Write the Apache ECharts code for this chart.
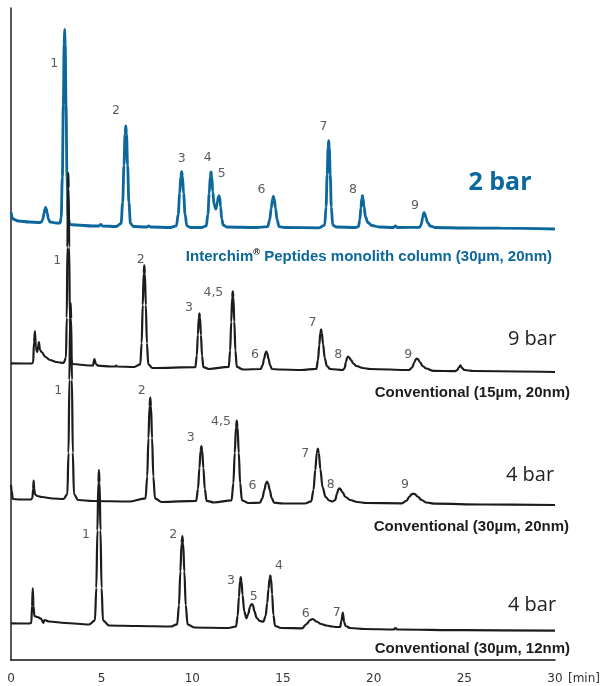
<!DOCTYPE html>
<html>
<head>
<meta charset="utf-8">
<script src="https://cdn.jsdelivr.net/npm/echarts@6/dist/echarts.min.js"></script>
<style>
html,body{margin:0;padding:0;background:#fff;}
#chart{width:604px;height:686px;}
</style>
</head>
<body>
<div id="chart"></div>
<script>
// ---- Data (time in min, signal in arbitrary units relative to each trace's baseline) ----
const xTicks = [0, 5, 10, 15, 20, 25, 30];

const trace2bar = [[0,17],[0.1,10],[0.4,8],[1.0,7],[1.6,6.5],
 [1.68,7],[1.76,10.1],[1.82,15.7],[1.874,20.3],[1.91,21.5],[1.946,20.3],[2.0,15.7],[2.063,10.1],[2.144,7],
 [2.5,6],[2.7,5.8],
 [2.765,11],[2.832,52],[2.885,124],[2.93,184],[2.96,199.7],[2.99,184],[3.035,124],[3.088,52],[3.155,11],[3.25,4.5],
 [3.6,4],[4.5,3],[4.85,3],[4.95,4.5],[5.05,3],[5.8,2.5],
 [6.07,5.5],[6.16,26.6],[6.23,63.8],[6.29,95],[6.33,103],[6.37,95],[6.43,63.8],[6.5,26.6],[6.59,5.5],[6.75,2.5],
 [7.5,2],[7.6,3],[7.7,2],[8.8,1.5],
 [9.124,3.2],[9.223,14.9],[9.3,35.5],[9.366,52.8],[9.41,57.3],[9.454,52.8],[9.52,35.5],[9.597,14.9],[9.696,3.2],[9.9,1.5],
 [10.5,1.5],
 [10.77,3.2],[10.86,14.8],[10.93,35.4],[10.99,52.6],[11.03,57],[11.07,52.6],[11.13,37],[11.2,24],[11.3,20],
 [11.38,27],[11.434,32],[11.47,33.3],[11.506,32],[11.56,22],[11.62,10],[11.7,4],[11.9,2],
 [13.5,1.5],
 [14.158,2.4],[14.266,9],[14.35,20.5],[14.422,30.2],[14.47,32.7],[14.518,30.2],[14.59,20.5],[14.674,9],[14.782,2.4],[15.1,1.5],
 [17.0,1.2],
 [17.299,3.9],[17.375,22.2],[17.435,54.4],[17.486,81.3],[17.52,88.3],[17.554,81.3],[17.605,54.4],[17.665,22.2],[17.741,3.9],[17.95,2],
 [19.0,1.5],
 [19.16,2.5],[19.235,9.1],[19.295,20.9],[19.346,30.8],[19.38,33.3],[19.414,30.8],[19.47,22],[19.55,12],[19.68,6.5],[19.9,3.5],[20.3,2],
 [21.1,1.5],[21.2,3],[21.3,1.5],
 [22.54,1.6],[22.63,5],[22.7,11],[22.75,15.3],[22.78,16.3],[22.82,15.3],[22.88,11.5],[22.97,6.5],[23.12,3],[23.4,1.5],
 [25,1],[27,0.8],[30,0]];

const trace9bar = [[0,8.7],[1.1,8.5],[1.22,9],[1.27,30],[1.32,41],[1.37,25],[1.44,20],[1.5,26],[1.54,30],[1.6,22],[1.69,20],[1.9,15],[2.15,12],[2.5,10],[2.9,9],
 [3.03,14.2],[3.075,54.2],[3.11,124.7],[3.14,183.8],[3.16,199],[3.18,183.8],[3.21,124.7],[3.245,54.2],[3.29,14.2],[3.4,8],
 [4.3,6.5],[4.52,6.5],[4.6,13],[4.68,8],[4.8,6.3],[5.5,5.5],[5.75,5.5],[5.8,6.5],[5.85,5.5],[6.8,5],
 [7.129,7.6],[7.205,29],[7.265,66.8],[7.316,98.5],[7.35,106.7],[7.384,98.5],[7.435,66.8],[7.495,29],[7.571,7.6],[7.8,4],
 [10.169,4.9],[10.245,16.5],[10.305,37.1],[10.356,54.3],[10.39,58.7],[10.424,54.3],[10.475,37.1],[10.535,16.5],[10.611,4.9],[10.9,3],
 [12.009,5.1],[12.085,21.5],[12.145,50.3],[12.196,74.5],[12.23,80.7],[12.264,74.5],[12.315,50.3],[12.375,21.5],[12.451,5.1],[12.8,2.5],
 [13.768,3],[13.876,6.8],[13.96,13.4],[14.032,18.9],[14.08,20.3],[14.128,18.9],[14.2,13.4],[14.284,6.8],[14.392,3],[14.8,2.5],
 [16.0,2],
 [16.84,3.2],[16.93,11.8],[17.0,26.8],[17.06,39.4],[17.1,42.7],[17.14,39.4],[17.21,28],[17.3,14],[17.42,6],[17.6,3],[18.3,2],
 [18.4,4],[18.47,10],[18.54,14.5],[18.59,15.3],[18.65,14.5],[18.75,12],[18.88,8.5],[19.05,6],[19.4,4],[19.8,3],
 [21.95,2],[22.12,4.5],[22.25,10],[22.33,12.8],[22.38,13.3],[22.44,12.8],[22.55,10],[22.7,6],[22.9,3.5],[23.3,1.2],
 [24.5,0.8],[24.6,1.8],[24.7,4.5],[24.78,6.7],[24.87,4],[25.0,2],[25.5,1],[30,0]];

const trace4bar20 = [[0,20],[0.04,14],[0.1,6],[0.5,5.5],[1.1,5.5],
 [1.18,7],[1.22,16],[1.25,24.3],[1.28,16],[1.33,10.5],[1.45,9],[1.7,8],[2.3,6.5],[2.9,6],
 [3.108,10.9],[3.171,52.3],[3.22,125.2],[3.262,186.2],[3.29,202],[3.318,186.2],[3.36,125.2],[3.409,52.3],[3.472,10.9],[3.7,5],
 [4.5,4],[6.5,3.5],
 [7.42,6.6],[7.51,28.4],[7.58,66.8],[7.64,99],[7.68,107.3],[7.72,99],[7.78,66.8],[7.85,28.4],[7.94,6.6],[8.3,3],
 [10.214,4.2],[10.313,16.1],[10.39,37],[10.456,54.5],[10.5,59],[10.544,54.5],[10.61,37],[10.687,16.1],[10.786,4.2],[11.2,2.5],
 [12.164,4.7],[12.263,21.9],[12.34,52.2],[12.406,77.6],[12.45,84.3],[12.494,77.6],[12.56,52.2],[12.637,21.9],[12.736,4.7],[13.1,2],
 [13.73,2.4],[13.865,7],[13.97,14.9],[14.06,21.6],[14.12,23.3],[14.18,21.6],[14.27,14.9],[14.375,7],[14.51,2.4],[15.0,1.5],
 [16.2,1.5],
 [16.556,3.6],[16.682,15],[16.78,35.1],[16.864,52],[16.92,56.3],[16.976,52],[17.06,36],[17.18,18],[17.35,8],[17.55,4.5],[17.72,3.5],
 [17.88,5],[17.98,11.5],[18.06,15.8],[18.11,16.7],[18.17,15.8],[18.27,13],[18.45,8],[18.7,5],[19.1,3],[19.6,2],
 [21.55,1.7],[21.8,4],[21.98,8.5],[22.1,10.8],[22.19,11.3],[22.28,10.8],[22.42,8.5],[22.65,5],[22.9,2.5],[23.4,1.3],
 [26,0.5],[30,0]];

const trace4bar12 = [[0,7.7],[1.0,7.5],
 [1.12,8],[1.16,25],[1.2,42.7],[1.24,25],[1.29,15],[1.45,14],[1.65,12.5],[1.78,8],[1.85,11],[2.1,9.5],[3.0,8],[4.3,6.5],
 [4.629,10.7],[4.705,43.2],[4.765,100.6],[4.816,148.6],[4.85,161],[4.884,148.6],[4.935,100.6],[4.995,43.2],[5.071,10.7],[5.4,5.5],
 [7.0,5],[8.8,4.5],
 [9.164,6.7],[9.263,25.8],[9.34,59.5],[9.406,87.7],[9.45,95],[9.494,87.7],[9.56,59.5],[9.637,25.8],[9.736,6.7],[10.1,3.5],
 [12.0,3],
 [12.41,4.5],[12.5,15.2],[12.57,34.1],[12.63,49.9],[12.67,54],[12.71,49.9],[12.77,36],[12.86,20],[12.98,12.7],
 [13.08,17],[13.18,24],[13.24,26.5],[13.29,27],[13.34,26],[13.42,20],[13.55,13],[13.72,10],[13.92,9.3],
 [14.04,15],[14.13,28],[14.2,42],[14.26,52.5],[14.3,55.3],[14.34,52.5],[14.4,37],[14.47,16],[14.56,5],[14.9,3],
 [16.05,2.7],[16.3,7],[16.5,11],[16.64,12],[16.85,9.5],[17.1,7],[17.4,5.5],[17.7,4.5],[17.95,4],
 [18.15,4],[18.22,10],[18.3,18.3],[18.37,9],[18.45,5],[18.7,3],
 [19.5,2],[21.1,1.5],[21.2,3],[21.3,1.5],[25,0.8],[30,0.3]];

// peak labels: [time, signal level, text]
const labels2bar = [[2.39,165.7,'1'],[5.79,118,'2'],[9.42,70.7,'3'],[10.85,71.3,'4'],[11.62,55,'5'],[13.81,39,'6'],[17.23,102.3,'7'],[18.86,39.7,'8'],[22.28,23.7,'9']];
const labels9bar = [[2.55,111.3,'1'],[7.15,112,'2'],[9.82,64.3,'3'],[11.16,79.3,'4,5'],[13.46,17.7,'6'],[16.62,49.3,'7'],[18.05,17,'8'],[21.91,17,'9']];
const labels4bar20 = [[2.61,114,'1'],[7.21,114,'2'],[9.91,67.3,'3'],[11.58,83,'4,5'],[13.31,19.3,'6'],[16.22,51.7,'7'],[17.63,20,'8'],[21.73,20,'9']];
const labels4bar12 = [[4.14,96,'1'],[8.95,96.7,'2'],[12.13,50,'3'],[13.39,34.3,'5'],[14.78,65,'4'],[16.25,17,'6'],[17.96,18.3,'7']];

const traceNames = ['2 bar', '9 bar', '4 bar', '4 bar'];
const columnNames = ['Interchim® Peptides monolith column (30µm, 20nm)', 'Conventional (15µm, 20nm)', 'Conventional (30µm, 20nm)', 'Conventional (30µm, 12nm)'];

// ---- Layout / style ----
const BLUE = '#0b679c';
const BLACK = '#1c1c1c';
const offsets = [431, 288, 155, 29];
const traces = [trace2bar, trace9bar, trace4bar20, trace4bar12];
const labelSets = [labels2bar, labels9bar, labels4bar20, labels4bar12];
const colors = [BLUE, BLACK, BLACK, BLACK];
const widths = [2.8, 2.2, 2.2, 2.2];

const series = [];
traces.forEach((tr, i) => {
  series.push({
    type: 'line',
    data: tr.map(p => [p[0], p[1] + offsets[i]]),
    showSymbol: false,
    smooth: 0.35,
    smoothMonotone: 'x',
    lineStyle: { color: colors[i], width: widths[i] },
    silent: true,
    z: i === 0 ? 2 : 3
  });
});
labelSets.forEach((ls, i) => {
  series.push({
    type: 'scatter',
    data: ls.map(p => [p[0], p[1] + offsets[i], p[2]]),
    symbolSize: 1,
    itemStyle: { color: 'rgba(0,0,0,0)' },
    silent: true,
    z: 5,
    label: {
      show: true,
      position: 'inside',
      formatter: d => d.data[2],
      fontFamily: 'DejaVu Sans',
      fontSize: 12.5,
      color: '#333'
    }
  });
});

const chart = echarts.init(document.getElementById('chart'), null, { renderer: 'canvas' });
chart.setOption({
  animation: false,
  backgroundColor: '#fff',
  grid: { left: 11, right: 49, top: 8, bottom: 26, containLabel: false },
  xAxis: {
    type: 'value', min: xTicks[0], max: xTicks[xTicks.length - 1], interval: 5,
    axisLine: { show: true, onZero: false, lineStyle: { color: '#111', width: 1.5 } },
    axisTick: { show: false },
    splitLine: { show: false },
    axisLabel: { fontFamily: 'DejaVu Sans', fontSize: 12, color: '#333', margin: 13 }
  },
  yAxis: {
    type: 'value', min: 0, max: 652,
    axisLine: { show: true, lineStyle: { color: '#222', width: 1.5 } },
    axisTick: { show: false },
    splitLine: { show: false },
    axisLabel: { show: false }
  },
  graphic: [
    { type: 'text', left: 568, top: 673, style: { text: '[min]', font: '12px "DejaVu Sans"', fill: '#333' } },
    { type: 'text', x: 500, y: 183, style: { text: traceNames[0], font: 'bold 25px "Open Sans"', fill: BLUE, align: 'center', verticalAlign: 'middle' } },
    { type: 'text', x: 532, y: 339, style: { text: traceNames[1], font: '20px "Open Sans"', fill: '#222', align: 'center', verticalAlign: 'middle' } },
    { type: 'text', x: 530, y: 475, style: { text: traceNames[2], font: '20px "Open Sans"', fill: '#222', align: 'center', verticalAlign: 'middle' } },
    { type: 'text', x: 532, y: 605, style: { text: traceNames[3], font: '20px "Open Sans"', fill: '#222', align: 'center', verticalAlign: 'middle' } },
    { type: 'text', x: 552, y: 257, style: {
        text: '{a|Interchim}{s|®}{a|' + columnNames[0].replace('Interchim®', '') + '}',
        align: 'right', verticalAlign: 'middle',
        rich: {
          a: { fontFamily: 'Liberation Sans', fontWeight: 'bold', fontSize: 15, fill: BLUE, color: BLUE, lineHeight: 18 },
          s: { fontFamily: 'Liberation Sans', fontWeight: 'bold', fontSize: 9, color: BLUE, verticalAlign: 'top', lineHeight: 18, padding: [0, 0, 6, 0] }
        }
      } },
    { type: 'text', x: 570, y: 393, style: { text: columnNames[1], font: 'bold 15px "Liberation Sans"', fill: BLACK, align: 'right', verticalAlign: 'middle' } },
    { type: 'text', x: 569, y: 527, style: { text: columnNames[2], font: 'bold 15px "Liberation Sans"', fill: BLACK, align: 'right', verticalAlign: 'middle' } },
    { type: 'text', x: 570, y: 649, style: { text: columnNames[3], font: 'bold 15px "Liberation Sans"', fill: BLACK, align: 'right', verticalAlign: 'middle' } }
  ],
  series: series
});
</script>
</body>
</html>
